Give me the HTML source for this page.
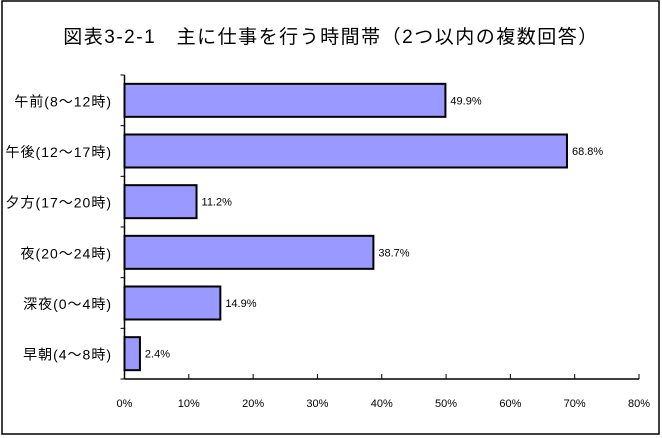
<!DOCTYPE html>
<html><head><meta charset="utf-8"><style>
html,body{margin:0;padding:0;background:#fff}
svg{display:block;font-family:"Liberation Sans","Noto Sans CJK JP",sans-serif}
</style></head><body>
<svg width="662" height="438">
<rect x="2" y="1" width="657" height="433" fill="#fff" stroke="#000" stroke-width="1.5"/>
<text x="331" y="43" font-size="19" letter-spacing="1.5" text-anchor="middle">図表3-2-1　主に仕事を行う時間帯（2つ以内の複数回答）</text>
<g id="plot"></g>
</svg>
<script>
const categories=["午前(8～12時)","午後(12～17時)","夕方(17～20時)","夜(20～24時)","深夜(0～4時)","早朝(4～8時)"];
const values=[49.9,68.8,11.2,38.7,14.9,2.4];
const valueLabels=["49.9%","68.8%","11.2%","38.7%","14.9%","2.4%"];
const ticks=[0,10,20,30,40,50,60,70,80];
const ns="http://www.w3.org/2000/svg";
const g=document.getElementById('plot');
const X0=124.5,X1=639,Y0=75,Y1=379,MAX=80;
const x=v=>X0+(X1-X0)*v/MAX;
const band=(Y1-Y0)/categories.length;
const y=i=>Y0+band*i;
function mk(t,a){const e=document.createElementNS(ns,t);for(const k in a)e.setAttribute(k,a[k]);g.appendChild(e);return e;}
categories.forEach((c,i)=>{
  const b=mk('rect',{x:x(0),y:y(i)+band/2-16.5,width:x(values[i])-x(0),height:33,fill:'#9999ff',stroke:'#000','stroke-width':2});
  
  
  const l=mk('text',{x:x(values[i])+5,y:y(i)+band/2+4,'font-size':11});
  l.textContent=valueLabels[i];
  
  
  const cl=mk('text',{x:112,y:y(i)+band/2+6,'font-size':14,'letter-spacing':1,'text-anchor':'end'});
  cl.textContent=c;
  
  
});
for(let i=0;i<=categories.length;i++){
  const t=mk('line',{x1:X0-4,x2:X0,y1:y(i),y2:y(i),stroke:'#000','stroke-width':1});
  
  
}
ticks.forEach(v=>{
  const t=mk('line',{x1:x(v),x2:x(v),y1:Y1,y2:Y1-5,stroke:'#000','stroke-width':1});
  
  
  const l=mk('text',{x:x(v),y:407,'font-size':11,'text-anchor':'middle'});
  l.textContent=v+'%';
  
  
});
const ya=mk('line',{x1:X0,x2:X0,y1:Y0,y2:Y1,stroke:'#000','stroke-width':1.5});


const xa=mk('line',{x1:X0,x2:X1,y1:Y1,y2:Y1,stroke:'#000','stroke-width':1.5});


</script>
</body></html>
